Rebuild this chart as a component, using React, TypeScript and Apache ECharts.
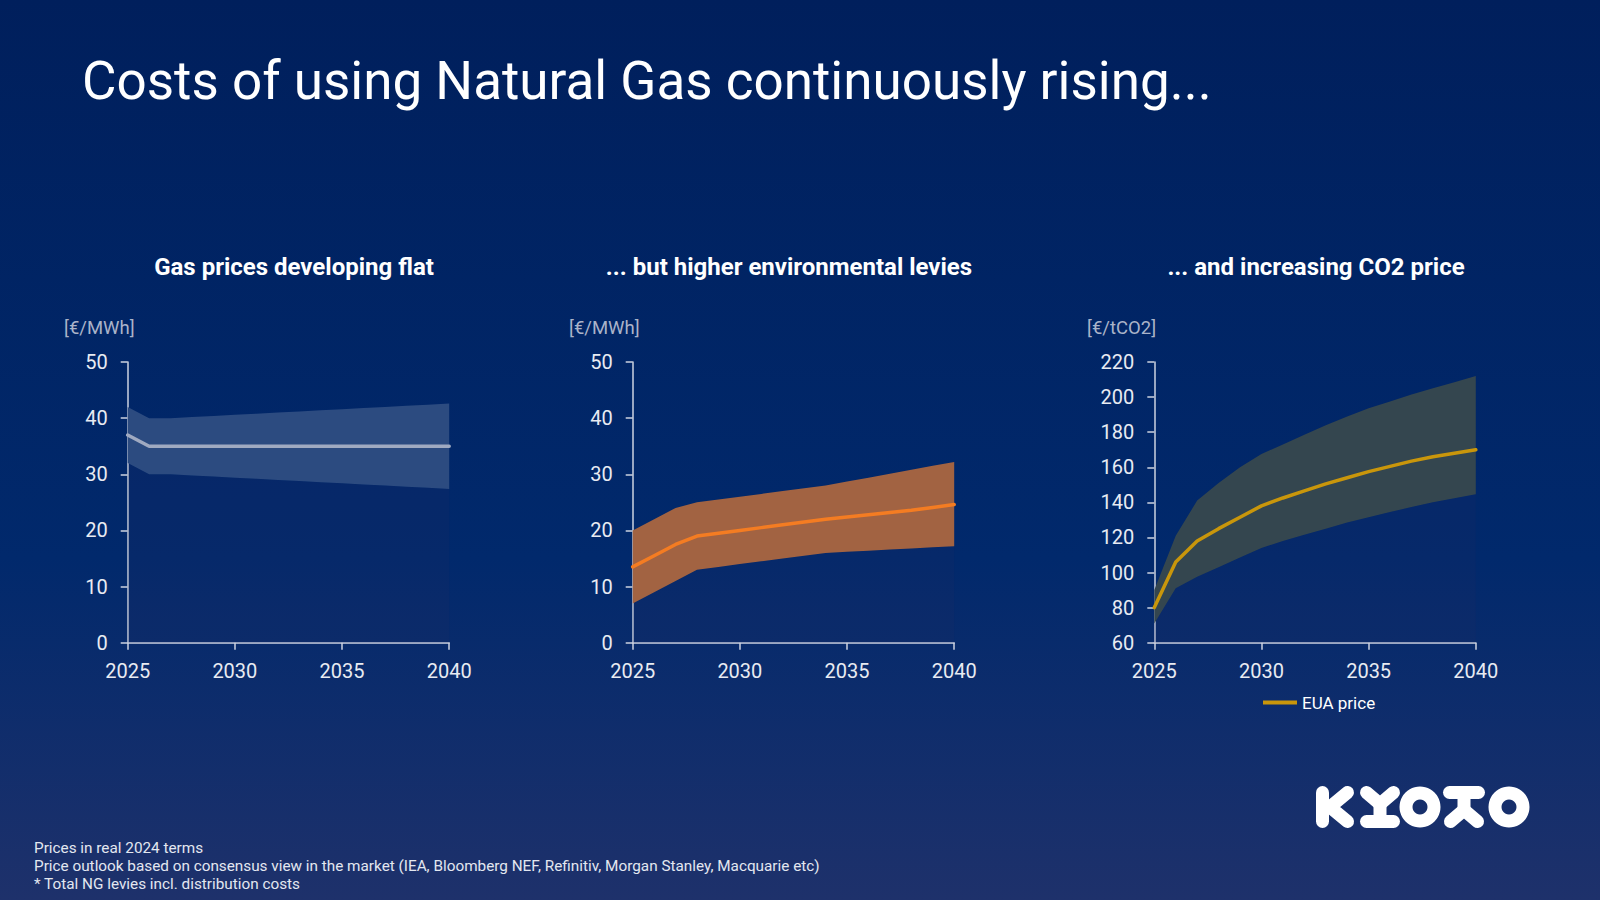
import React, { useEffect, useRef } from "react";
import * as echarts from "echarts";

const years = ["2025", "2026", "2027", "2028", "2029", "2030", "2031", "2032", "2033", "2034", "2035", "2036", "2037", "2038", "2039", "2040"];

const gasLow = [32, 30, 30, 29.8, 29.6, 29.4, 29.2, 29.0, 28.8, 28.6, 28.4, 28.2, 28.0, 27.8, 27.6, 27.4];
const gasMid = [37, 35, 35, 35, 35, 35, 35, 35, 35, 35, 35, 35, 35, 35, 35, 35];
const gasHigh = [42, 40, 40, 40.2, 40.4, 40.6, 40.8, 41.0, 41.2, 41.4, 41.6, 41.8, 42.0, 42.2, 42.4, 42.6];

const levyLow = [7, 9, 11, 13, 13.5, 14, 14.5, 15, 15.5, 16, 16.2, 16.4, 16.6, 16.8, 17, 17.2];
const levyMid = [13.5, 15.5, 17.5, 19, 19.5, 20, 20.5, 21, 21.5, 22, 22.4, 22.8, 23.2, 23.6, 24.1, 24.6];
const levyHigh = [20, 22, 24, 25, 25.5, 26, 26.5, 27, 27.5, 28, 28.7, 29.4, 30.1, 30.8, 31.5, 32.2];

const co2Low = [71, 91, 97.6, 103, 108.5, 114, 118, 121.5, 125, 128.5, 131.5, 134.5, 137.3, 140, 142.3, 144.6];
const co2Mid = [80, 106, 118, 125, 131.5, 138, 142.5, 146.5, 150.5, 154, 157.5, 160.5, 163.5, 166, 168, 170];
const co2High = [90, 121, 141, 151, 160, 167.6, 173, 178.5, 184, 189, 193.6, 197.5, 201.5, 205, 208.5, 212];

const chartTitles = ["Gas prices developing flat", "... but higher environmental levies", "... and increasing CO2 price"];
const unitLabels = ["[€/MWh]", "[€/MWh]", "[€/tCO2]"];
const footnotes = [
  "Prices in real 2024 terms",
  "Price outlook based on consensus view in the market (IEA, Bloomberg NEF, Refinitiv, Morgan Stanley, Macquarie etc)",
  "* Total NG levies incl. distribution costs",
];
const mainTitle = "Costs of using Natural Gas continuously rising...";
const legendName = "EUA price";

const FONT = "Roboto, 'Noto Sans', sans-serif";

export default function App() {
  const ref = useRef<HTMLDivElement>(null);

  useEffect(() => {
    document.body.style.margin = "0";
    const chart = echarts.init(ref.current!, null, { renderer: "svg" });

    const gridLefts = [127.7, 632.7, 1154.3];
    const gridW = 321.5;
    const gridTop = 362;
    const gridH = 280.7;

    const diff = (a: number[], b: number[]) => a.map((v, i) => +(v - b[i]).toFixed(3));

    const axisColor = "#cdd3e1";
    const labelColor = "#e8ebf2";

    const xAxes = gridLefts.map((_, i) => ({
      type: "category",
      gridIndex: i,
      data: years,
      boundaryGap: false,
      axisLine: { show: true, lineStyle: { color: axisColor, width: 1.5 } },
      axisTick: { show: true, length: 7, interval: 4, lineStyle: { color: axisColor, width: 1.5 } },
      axisLabel: { color: labelColor, fontSize: 20, fontFamily: FONT, margin: 18, interval: 4 },
      splitLine: { show: false },
    }));

    const yAxes = gridLefts.map((_, i) => ({
      type: "value",
      gridIndex: i,
      min: i === 2 ? 60 : 0,
      max: i === 2 ? 220 : 50,
      interval: i === 2 ? 20 : 10,
      axisLine: { show: true, lineStyle: { color: axisColor, width: 1.5 } },
      axisTick: { show: true, length: 7, lineStyle: { color: axisColor, width: 1.5 } },
      axisLabel: { color: labelColor, fontSize: 20, fontFamily: FONT, margin: 20 },
      splitLine: { show: false },
    }));

    const sets = [
      { low: gasLow, mid: gasMid, high: gasHigh, band: "#2c4b80", line: "#a0aac1", name: "Gas" },
      { low: levyLow, mid: levyMid, high: levyHigh, band: "#a26342", line: "#f47c22", name: "Levies" },
      { low: co2Low, mid: co2Mid, high: co2High, band: "#34464f", line: "#c9960b", name: legendName },
    ];

    const series: any[] = [];
    sets.forEach((s, i) => {
      series.push({
        type: "line",
        name: s.name + " low",
        xAxisIndex: i,
        yAxisIndex: i,
        stack: "band" + i,
        data: s.low,
        showSymbol: false,
        lineStyle: { width: 0 },
        areaStyle: { color: "rgba(40,44,100,0.16)", opacity: 1 },
        silent: true,
        z: 1,
      });
      series.push({
        type: "line",
        name: s.name + " range",
        xAxisIndex: i,
        yAxisIndex: i,
        stack: "band" + i,
        data: diff(s.high, s.low),
        showSymbol: false,
        lineStyle: { width: 0 },
        areaStyle: { color: s.band, opacity: 1 },
        silent: true,
        z: 2,
      });
      series.push({
        type: "line",
        name: s.name,
        xAxisIndex: i,
        yAxisIndex: i,
        data: s.mid,
        showSymbol: false,
        lineStyle: { width: 3.5, color: s.line, cap: "round" },
        itemStyle: { color: s.line },
        silent: true,
        z: 3,
      });
    });

    const titleCenters = [294, 789, 1316];
    const unitLefts = [64, 569, 1087];

    const graphics: any[] = [
      {
        type: "text",
        left: 82,
        top: 54,
        style: { text: mainTitle, fill: "#ffffff", fontSize: 53, fontFamily: FONT, fontWeight: 400 },
      },
    ];
    chartTitles.forEach((t, i) => {
      graphics.push({
        type: "text",
        x: titleCenters[i],
        y: 267,
        style: {
          text: t,
          fill: "#ffffff",
          fontSize: 24,
          fontWeight: "bold",
          fontFamily: FONT,
          align: "center",
          verticalAlign: "middle",
        },
      });
      graphics.push({
        type: "text",
        x: unitLefts[i],
        y: 328,
        style: {
          text: unitLabels[i],
          fill: "#aab3c9",
          fontSize: 18.5,
          fontFamily: FONT,
          align: "left",
          verticalAlign: "middle",
        },
      });
    });
    footnotes.forEach((t, i) => {
      graphics.push({
        type: "text",
        x: 34,
        y: 848 + i * 18,
        style: { text: t, fill: "#e3e7f0", fontSize: 15.3, fontFamily: FONT, verticalAlign: "middle" },
      });
    });

    // KYOTO logo
    const stroke = { stroke: "#ffffff", lineWidth: 13, lineCap: "round", lineJoin: "round", fill: null };
    const poly = (pts: number[][]) => ({ type: "polyline", shape: { points: pts }, style: stroke });
    graphics.push(
      poly([[1322.5, 792.5], [1322.5, 821.5]]),
      poly([[1347.5, 792.5], [1330, 807], [1347.5, 821.5]]),
      poly([[1366.5, 792.5], [1380, 804], [1393.5, 792.5]]),
      poly([[1380, 804], [1380, 821.5]]),
      poly([[1366.5, 821.5], [1393.5, 821.5]]),
      { type: "ring", shape: { cx: 1420, cy: 807, r: 20.5, r0: 7.5 }, style: { fill: "#ffffff" } },
      poly([[1449.5, 792.5], [1478.5, 792.5]]),
      poly([[1464, 792.5], [1464, 810]]),
      poly([[1450.5, 821.5], [1464, 810], [1477.5, 821.5]]),
      { type: "ring", shape: { cx: 1509, cy: 807, r: 20.5, r0: 7.5 }, style: { fill: "#ffffff" } }
    );

    chart.setOption({
      animation: false,
      backgroundColor: {
        type: "linear",
        x: 0,
        y: 0,
        x2: 0,
        y2: 1,
        colorStops: [
          { offset: 0, color: "#001f5c" },
          { offset: 0.62, color: "#01296c" },
          { offset: 1, color: "#1e316b" },
        ],
      },
      grid: gridLefts.map((l) => ({ left: l, top: gridTop, width: gridW, height: gridH })),
      xAxis: xAxes,
      yAxis: yAxes,
      legend: {
        data: [{ name: legendName, icon: "rect" }],
        left: 1258,
        top: 689,
        itemWidth: 34,
        itemHeight: 4,
        itemGap: 10,
        textStyle: { color: "#ffffff", fontSize: 17, fontFamily: FONT },
        selectedMode: false,
      },
      tooltip: { show: false },
      series,
      graphic: graphics,
    });

    return () => chart.dispose();
  }, []);

  return <div ref={ref} style={{ position: "fixed", left: 0, top: 0, width: 1600, height: 900 }} />;
}
